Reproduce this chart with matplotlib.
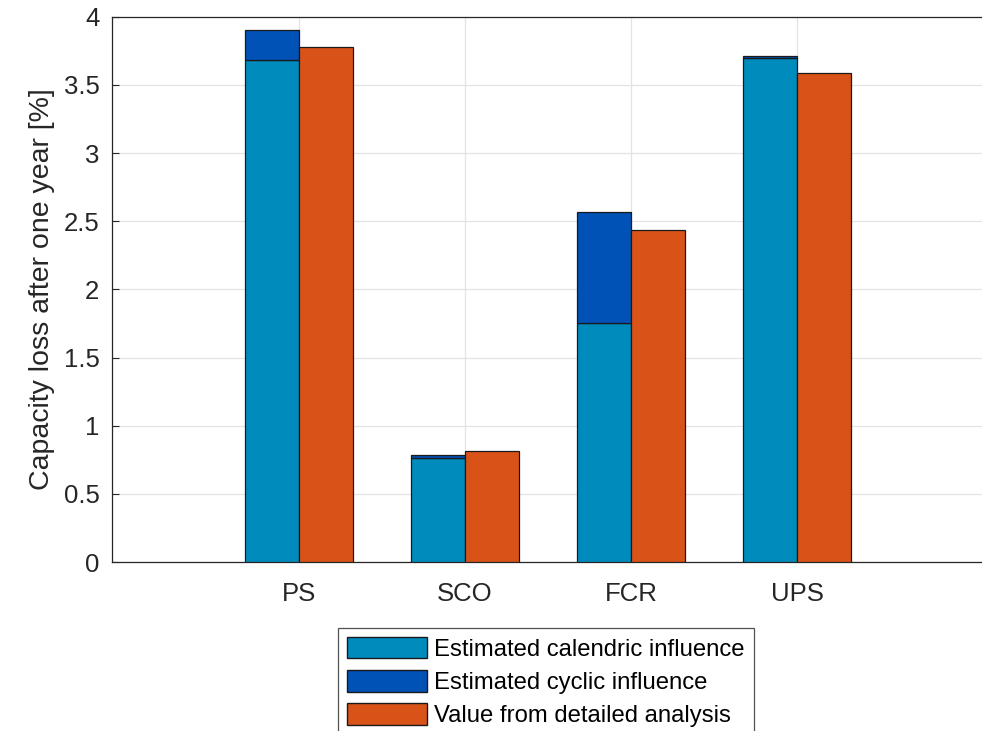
import numpy as np
import matplotlib
matplotlib.use('Agg')
import matplotlib.pyplot as plt
from matplotlib.patches import Patch

plt.rcParams['font.family'] = ['Liberation Sans', 'DejaVu Sans']

categories = ['PS', 'SCO', 'FCR', 'UPS']
calendric = [3.684, 0.763, 1.752, 3.700]
cyclic = [0.221, 0.025, 0.819, 0.012]
detailed = [3.778, 0.812, 2.437, 3.589]

c_cal = '#008BBD'
c_cyc = '#0152B6'
c_det = '#D95319'

fig = plt.figure(figsize=(9.82, 7.31), dpi=100)
ax = fig.add_axes([0.114, 0.231, 0.886, 0.746])

x = np.arange(1, len(categories) + 1)
w = 0.325
ax.bar(x - w / 2, calendric, w, color=c_cal, edgecolor='#1a1a1a', linewidth=0.9, zorder=3)
ax.bar(x - w / 2, cyclic, w, bottom=calendric, color=c_cyc, edgecolor='#1a1a1a',
       linewidth=0.9, zorder=3)
ax.bar(x + w / 2, detailed, w, color=c_det, edgecolor='#1a1a1a', linewidth=0.9, zorder=3)

ax.set_xlim(-0.127, 5.114)
ax.set_ylim(0, 4)
ax.set_xticks(x)
ax.set_xticklabels(categories)
ax.set_yticks(np.arange(0, 4.01, 0.5))
ax.set_yticklabels(['0', '0.5', '1', '1.5', '2', '2.5', '3', '3.5', '4'])
ax.tick_params(direction='in', length=5, labelsize=18.5, colors='#262626', pad=9)
ax.tick_params(axis='x', pad=14)
ax.grid(True, color='#e3e3e3', linewidth=0.9, zorder=0)
ax.set_axisbelow(True)
for s in ['left', 'bottom', 'top']:
    ax.spines[s].set_color('#262626')
    ax.spines[s].set_linewidth(0.9)
ax.spines['right'].set_visible(False)
ax.set_ylabel('Capacity loss after one year [%]', fontsize=20.5, color='#262626', labelpad=6)

handles = [Patch(facecolor=c_cal, edgecolor='#1a1a1a'),
           Patch(facecolor=c_cyc, edgecolor='#1a1a1a'),
           Patch(facecolor=c_det, edgecolor='#1a1a1a')]
labels = ['Estimated calendric influence', 'Estimated cyclic influence',
          'Value from detailed analysis']
leg = fig.legend(handles, labels, loc='upper left', bbox_to_anchor=(338 / 982, 1 - 628 / 731),
                 fontsize=17.2, frameon=True, fancybox=False, edgecolor='#262626',
                 handlelength=3.35, handleheight=1.0, labelspacing=0.39, handletextpad=0.3,
                 borderpad=0.38, borderaxespad=0)
leg.get_frame().set_linewidth(0.9)

fig.savefig('out.png', dpi=100)
